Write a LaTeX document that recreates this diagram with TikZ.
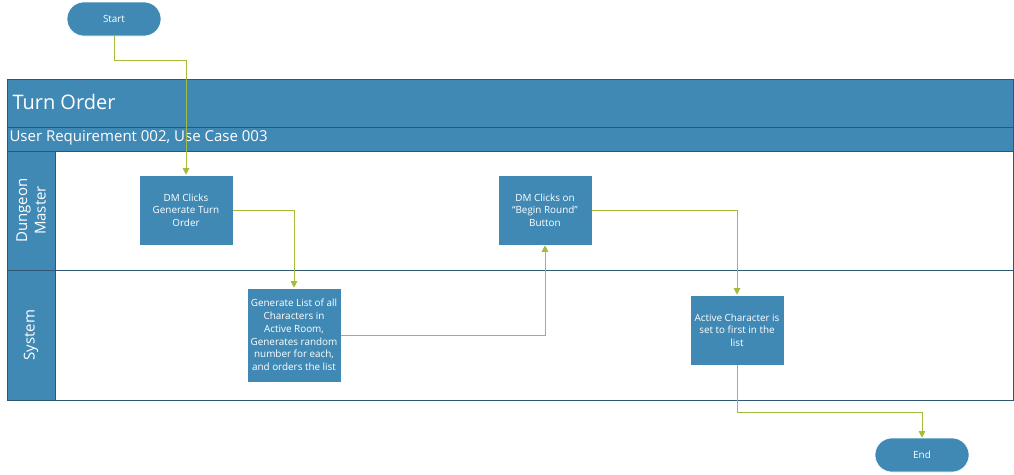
\documentclass[tikz,border=0pt]{standalone}
\usepackage{fontspec}
\setmainfont{Open Sans}
\usetikzlibrary{arrows.meta}
\definecolor{boxblue}{HTML}{4189B5}
\definecolor{edgeblue}{HTML}{2D5774}
\definecolor{flowgreen}{HTML}{A3BC3B}
\tikzset{
  band/.style={draw=edgeblue, line width=0.9pt, fill=boxblue},
  process/.style={fill=boxblue, draw=white, line width=0.6pt, text=white,
    minimum width=94pt, minimum height=70pt, inner sep=0pt, align=center,
    font=\fontsize{9.9}{12.7}\selectfont},
  terminal/.style={fill=boxblue, draw=white, line width=0.6pt, text=white,
    rounded corners=17pt, minimum width=94pt, minimum height=34pt,
    font=\fontsize{9.9}{12}\selectfont},
  lanelabel/.style={text=white, rotate=90, align=center,
    font=\fontsize{15}{18.5}\selectfont},
  flow/.style={draw=flowgreen, line width=0.9pt,
    -{Triangle[length=6.5pt, width=6.5pt]}},
}
\begin{document}
\begin{tikzpicture}[x=1pt, y=-1pt]
\useasboundingbox (0,0) rectangle (1014,474);
\fill[white] (0,0) rectangle (1014,474);

% pool: title band, subtitle band, lanes
\draw[band] (7,79) rectangle (1013,127);
\draw[band] (7,127) rectangle (1013,151);
\draw[edgeblue, line width=0.9pt, fill=white] (7,151) rectangle (1013,400);
\draw[band] (7,151) rectangle (55,270);
\draw[band] (7,270) rectangle (55,400);
\draw[edgeblue, line width=0.9pt] (55,270) -- (1013,270);

\node[anchor=west, text=white, font=\fontsize{20}{22}\selectfont] (title) at (9,102) {Turn Order};
\node[anchor=west, text=white, font=\fontsize{15}{17}\selectfont] (subtitle) at (6,138) {User Requirement 002, Use Case 003};
\node[lanelabel] (laneDM) at (31,210.5) {Dungeon\\Master};
\node[lanelabel] (laneSys) at (31,335) {System};

% flow steps
\node[terminal] (start) at (114,19) {Start};
\node[process] (clickGen) at (186,210) {DM Clicks\\Generate Turn\\Order};
\node[process, minimum height=94pt] (genList) at (294,335) {Generate List of all\\Characters in\\Active Room,\\Generates random\\number for each,\\and orders the list};
\node[process] (clickBegin) at (545,210) {DM Clicks on\\``Begin Round''\\Button};
\node[process] (setActive) at (737,330) {Active Character is\\set to first in the\\list};
\node[terminal] (end) at (922,455) {End};

% connectors
\draw[flow] (start.south) -- ++(0,24) -| (clickGen.north);
\draw[flow] (clickGen.east) -| (genList.north);
\draw[flow] (genList.east) -| (clickBegin.south);
\draw[flow] (clickBegin.east) -| (setActive.north);
\draw[flow] (setActive.south) -- ++(0,47) -| (end.north);
\end{tikzpicture}
\end{document}
